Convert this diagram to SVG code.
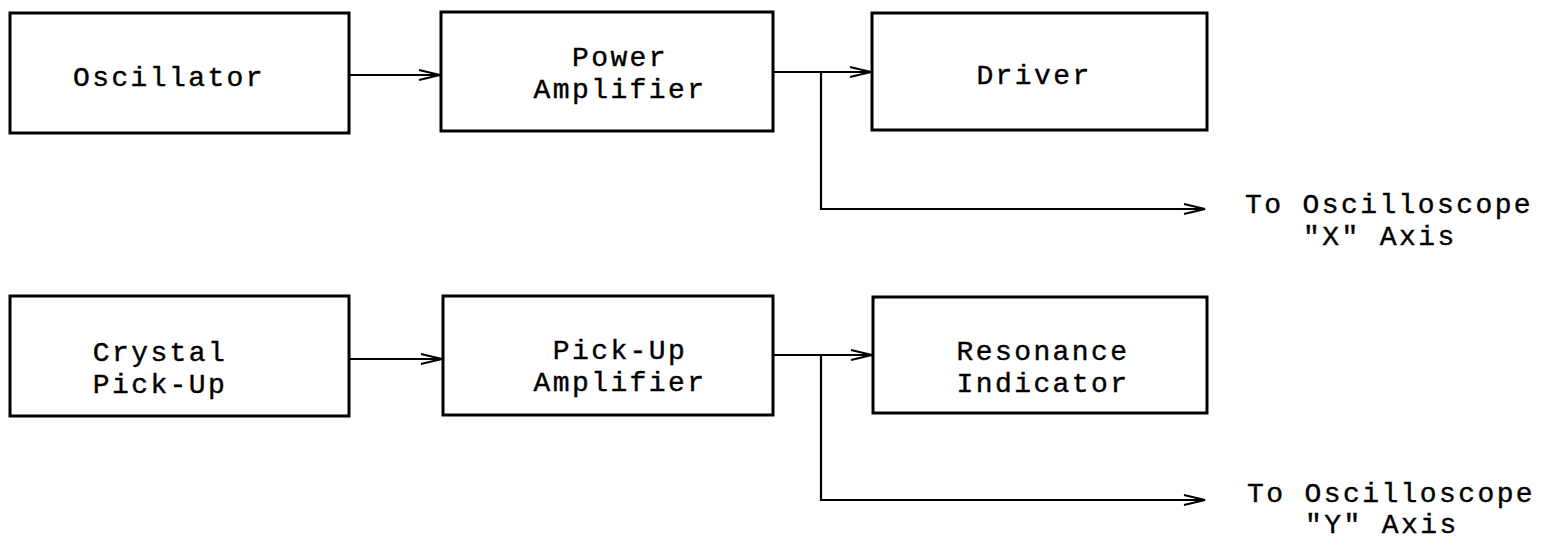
<svg xmlns="http://www.w3.org/2000/svg" width="1543" height="548" viewBox="0 0 1543 548">
<style>
.box{fill:#fff;stroke:#000;stroke-width:3}
.lbl{font-family:"Liberation Mono","Courier New",monospace;font-size:28px;letter-spacing:2.4px;fill:#000;stroke:#000;stroke-width:0.4;text-anchor:middle}
.lbs{font-family:"Liberation Mono","Courier New",monospace;font-size:28px;letter-spacing:2.4px;fill:#000;stroke:#000;stroke-width:0.4}
.con{fill:none;stroke:#000;stroke-width:2.2}
</style>
<defs>
<marker id="arr" markerUnits="userSpaceOnUse" markerWidth="24" markerHeight="14" viewBox="0 0 24 14" refX="22" refY="7" orient="auto">
<path d="M1,2 L22,7 L1,12" fill="none" stroke="#000" stroke-width="2"/>
</marker>
</defs>
<rect width="1543" height="548" fill="#fff"/>
<g id="connectors">
<path class="con" d="M349,75 H440" marker-end="url(#arr)"/>
<path class="con" d="M773,72 H871" marker-end="url(#arr)"/>
<path class="con" d="M821,72 V209 H1205" marker-end="url(#arr)"/>
<path class="con" d="M349,359 H442" marker-end="url(#arr)"/>
<path class="con" d="M773,355 H872" marker-end="url(#arr)"/>
<path class="con" d="M821,355 V500 H1205" marker-end="url(#arr)"/>
</g>
<g id="oscillator">
<rect class="box" x="10" y="13" width="339" height="120"/>
<text class="lbl" x="169" y="86">Oscillator</text>
</g>
<g id="power-amplifier">
<rect class="box" x="441" y="12" width="332" height="119"/>
<text class="lbl" x="620" y="66">Power</text>
<text class="lbl" x="620" y="98">Amplifier</text>
</g>
<g id="driver">
<rect class="box" x="872" y="13" width="335" height="117"/>
<text class="lbl" x="1034" y="84">Driver</text>
</g>
<g id="x-axis-output">
<text class="lbs" x="1245" y="213">To Oscilloscope</text>
<text class="lbs" x="1303" y="245">"X" Axis</text>
</g>
<g id="crystal-pickup">
<rect class="box" x="10" y="296" width="339" height="120"/>
<text class="lbl" x="160" y="361">Crystal</text>
<text class="lbl" x="160" y="393">Pick-Up</text>
</g>
<g id="pickup-amplifier">
<rect class="box" x="443" y="296" width="330" height="119"/>
<text class="lbl" x="620" y="359">Pick-Up</text>
<text class="lbl" x="620" y="391">Amplifier</text>
</g>
<g id="resonance-indicator">
<rect class="box" x="873" y="297" width="334" height="116"/>
<text class="lbl" x="1043" y="360">Resonance</text>
<text class="lbl" x="1043" y="392">Indicator</text>
</g>
<g id="y-axis-output">
<text class="lbs" x="1247" y="502">To Oscilloscope</text>
<text class="lbs" x="1305" y="533">"Y" Axis</text>
</g>
</svg>
